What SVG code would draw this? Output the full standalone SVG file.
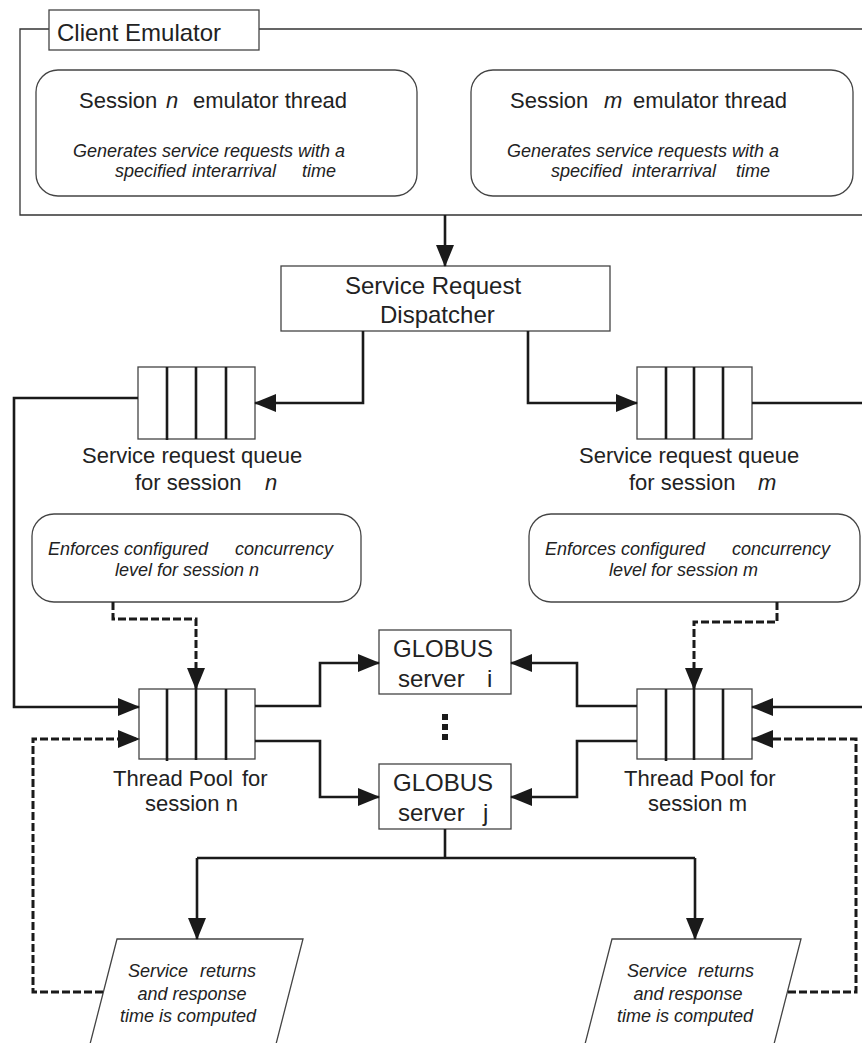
<svg xmlns="http://www.w3.org/2000/svg" width="862" height="1043" viewBox="0 0 862 1043">
<style>
.bx{fill:#fff;stroke:#444;stroke-width:1.3}
.fr{fill:none;stroke:#333;stroke-width:1.3}
.t{font-family:"Liberation Sans",Arial,sans-serif;font-size:22px;fill:#222}
.tl{font-family:"Liberation Sans",Arial,sans-serif;font-size:24px;fill:#222}
.i{font-family:"Liberation Sans",Arial,sans-serif;font-size:18px;font-style:italic;fill:#222}
.it{font-style:italic}
.c{fill:none;stroke:#1a1a1a;stroke-width:2.6}
.d{fill:none;stroke:#1a1a1a;stroke-width:3;stroke-dasharray:8 3}
.dv{stroke:#1a1a1a;stroke-width:2.6}
</style>
<defs>
<marker id="ah" markerUnits="userSpaceOnUse" markerWidth="22" markerHeight="18" viewBox="0 0 22 18" refX="21" refY="9" orient="auto">
<path d="M0,0 L22,9 L0,18 Z" fill="#1a1a1a"/>
</marker>
</defs>
<g id="client-emulator">
<path class="fr" d="M49,29 H20 V215 H870 M259,29 H870"/>
<rect class="bx" x="49" y="10" width="210" height="40"/>
<text class="tl" x="57" y="41">Client Emulator</text>
</g>
<g id="session-n-thread">
<rect class="bx" x="36" y="70" width="381" height="126" rx="22"/>
<text class="t" y="108"><tspan x="79">Session</tspan><tspan x="166" class="it">n</tspan><tspan x="193">emulator thread</tspan></text>
<text class="i" y="157"><tspan x="73">Generates service requests with a</tspan></text>
<text class="i" y="177"><tspan x="115">specified</tspan><tspan x="192">interarrival</tspan><tspan x="302">time</tspan></text>
</g>
<g id="session-m-thread">
<rect class="bx" x="471" y="70" width="382" height="126" rx="22"/>
<text class="t" y="108"><tspan x="510">Session</tspan><tspan x="604" class="it">m</tspan><tspan x="633">emulator thread</tspan></text>
<text class="i" y="157"><tspan x="507">Generates service requests with a</tspan></text>
<text class="i" y="177"><tspan x="551">specified</tspan><tspan x="632">interarrival</tspan><tspan x="736">time</tspan></text>
</g>
<g id="dispatcher">
<rect class="bx" x="281" y="266" width="329" height="65"/>
<text class="tl" x="345" y="294">Service Request</text>
<text class="tl" x="380" y="323">Dispatcher</text>
</g>
<g id="queue-n">
<rect class="bx" x="138" y="367" width="117" height="72"/>
<line class="dv" x1="167" y1="367" x2="167" y2="440"/>
<line class="dv" x1="196" y1="367" x2="196" y2="439"/>
<line class="dv" x1="226" y1="367" x2="226" y2="439"/>
<text class="t" x="82" y="463">Service request queue</text>
<text class="t" y="490"><tspan x="135">for session</tspan><tspan x="265" class="it">n</tspan></text>
</g>
<g id="queue-m">
<rect class="bx" x="637" y="367" width="115" height="72"/>
<line class="dv" x1="666" y1="367" x2="666" y2="439"/>
<line class="dv" x1="694" y1="367" x2="694" y2="439"/>
<line class="dv" x1="723" y1="367" x2="723" y2="439"/>
<text class="t" x="579" y="463">Service request queue</text>
<text class="t" y="490"><tspan x="629">for session</tspan><tspan x="758" class="it">m</tspan></text>
</g>
<g id="concurrency-n">
<rect class="bx" x="32" y="514" width="329" height="88" rx="22"/>
<text class="i" y="555"><tspan x="48">Enforces configured</tspan><tspan x="235">concurrency</tspan></text>
<text class="i" x="115" y="576">level for session n</text>
</g>
<g id="concurrency-m">
<rect class="bx" x="529" y="514" width="331" height="88" rx="22"/>
<text class="i" y="555"><tspan x="545">Enforces configured</tspan><tspan x="732">concurrency</tspan></text>
<text class="i" x="609" y="576">level for session m</text>
</g>
<g id="thread-pool-n">
<rect class="bx" x="139" y="689" width="116" height="70"/>
<line class="dv" x1="167" y1="689" x2="167" y2="761"/>
<line class="dv" x1="196" y1="689" x2="196" y2="760"/>
<line class="dv" x1="226" y1="689" x2="226" y2="760"/>
<text class="t" y="786"><tspan x="113">Thread Pool</tspan><tspan x="242">for</tspan></text>
<text class="t" x="145" y="811">session n</text>
</g>
<g id="thread-pool-m">
<rect class="bx" x="637" y="689" width="115" height="70"/>
<line class="dv" x1="666" y1="689" x2="666" y2="761"/>
<line class="dv" x1="694" y1="689" x2="694" y2="760"/>
<line class="dv" x1="723" y1="689" x2="723" y2="760"/>
<text class="t" x="624" y="786">Thread Pool for</text>
<text class="t" x="648" y="811">session m</text>
</g>
<g id="globus-i">
<rect class="bx" x="379" y="630" width="132" height="64"/>
<text class="tl" x="393" y="657">GLOBUS</text>
<text class="tl" y="687"><tspan x="398">server</tspan><tspan x="487">i</tspan></text>
</g>
<g id="ellipsis">
<rect x="442" y="714" width="6" height="6" fill="#1a1a1a"/>
<rect x="442" y="724" width="6" height="6" fill="#1a1a1a"/>
<rect x="442" y="734" width="6" height="6" fill="#1a1a1a"/>
</g>
<g id="globus-j">
<rect class="bx" x="379" y="764" width="132" height="65"/>
<text class="tl" x="393" y="791">GLOBUS</text>
<text class="tl" y="821"><tspan x="398">server</tspan><tspan x="483">j</tspan></text>
</g>
<g id="result-n">
<path class="bx" d="M117,939 H303 L275,1048 H89 Z"/>
<text class="i" y="977"><tspan x="128">Service</tspan><tspan x="200">returns</tspan></text>
<text class="i" x="192" y="1000" text-anchor="middle">and response</text>
<text class="i" x="188" y="1022" text-anchor="middle">time is computed</text>
</g>
<g id="result-m">
<path class="bx" d="M612,939 H801 L773,1048 H584 Z"/>
<text class="i" y="977"><tspan x="627">Service</tspan><tspan x="698">returns</tspan></text>
<text class="i" x="688" y="1000" text-anchor="middle">and response</text>
<text class="i" x="685" y="1022" text-anchor="middle">time is computed</text>
</g>
<g id="connectors">
<path class="c" d="M445,215 V266" marker-end="url(#ah)"/>
<path class="c" d="M363,331 V403 H255" marker-end="url(#ah)"/>
<path class="c" d="M528,331 V403 H637" marker-end="url(#ah)"/>
<path class="c" d="M138,398 H14 V707 H139" marker-end="url(#ah)"/>
<path class="c" d="M752,403 H870 V707 H752" marker-end="url(#ah)"/>
<path class="d" d="M113,602 V619 H196 V689" marker-end="url(#ah)"/>
<path class="d" d="M777,602 V622 H694 V689" marker-end="url(#ah)"/>
<path class="c" d="M255,706 H320 V663 H379" marker-end="url(#ah)"/>
<path class="c" d="M255,741 H320 V797 H379" marker-end="url(#ah)"/>
<path class="c" d="M637,706 H577 V663 H511" marker-end="url(#ah)"/>
<path class="c" d="M637,741 H577 V797 H511" marker-end="url(#ah)"/>
<path class="c" d="M445,829 V858"/>
<path class="c" d="M197,858 H695"/>
<path class="c" d="M197,858 V939" marker-end="url(#ah)"/>
<path class="c" d="M695,858 V939" marker-end="url(#ah)"/>
<path class="d" d="M103,992 H33 V739 H139" marker-end="url(#ah)"/>
<path class="d" d="M788,992 H856 V739 H752" marker-end="url(#ah)"/>
</g>
</svg>
